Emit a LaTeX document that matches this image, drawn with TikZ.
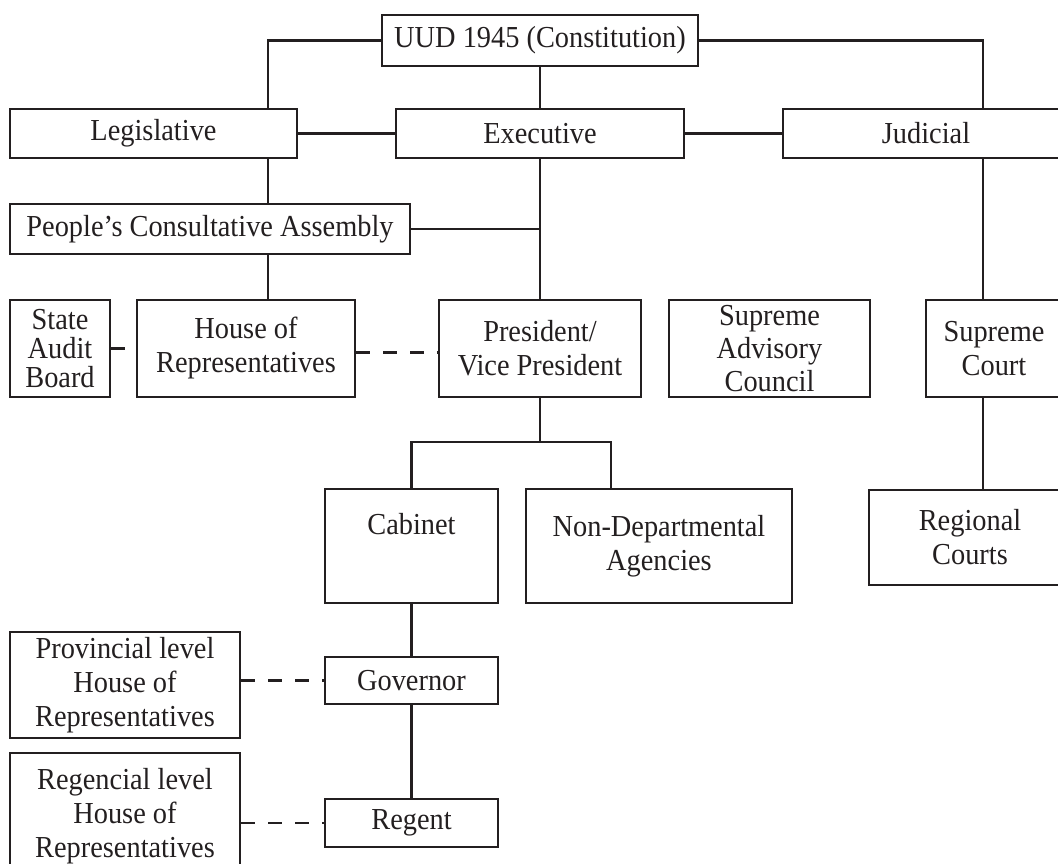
\documentclass[tikz,border=0pt]{standalone}
\usepackage{fontspec}
\setmainfont{Liberation Serif}[FakeStretch=0.93]
\definecolor{ink}{HTML}{231F20}
\begin{document}
\begin{tikzpicture}[x=1pt,y=-1pt,
  box/.style={draw=ink, text=ink, line width=2.8pt, inner sep=0pt, align=center,
    font=\fontsize{30.5}{34}\selectfont},
  conn/.style={draw=ink, line width=2.8pt},
  dsh/.style={draw=ink, line width=2.8pt, dash pattern=on 14pt off 13pt}]
\useasboundingbox (0,0) rectangle (1058,864);
\clip (0,0) rectangle (1058,864);
% row 1
\node[box, minimum width=316pt, minimum height=51pt] (uud) at (540,40.5) {UUD 1945 (Constitution)};
% row 2
\node[box, minimum width=287pt, minimum height=49pt] (leg) at (153.5,133.5) {Legislative};
\node[box, minimum width=288pt, minimum height=49pt] (exe) at (540,133.5) {Executive};
\node[box, minimum width=286pt, minimum height=49pt] (jud) at (926,133.5) {Judicial};
% row 2b
\node[box, minimum width=400pt, minimum height=50pt] (pca) at (210,229) {People’s Consultative Assembly};
% row 3
\node[box, minimum width=100pt, minimum height=97pt, font=\fontsize{30.5}{29}\selectfont] (sab) at (60,348.5) {State\\Audit\\Board};
\node[box, minimum width=218pt, minimum height=97pt] (house) at (246,348.5) {House of\\Representatives};
\node[box, minimum width=202pt, minimum height=97pt] (pres) at (540,348.5) {President/\\Vice President};
\node[box, minimum width=201pt, minimum height=97pt, font=\fontsize{30.5}{33}\selectfont] (sac) at (769.5,348.5) {Supreme\\Advisory\\Council};
\node[box, minimum width=136pt, minimum height=97pt] (sc) at (994,348.5) {Supreme\\Court};
% row 4
\node[box, minimum width=173pt, minimum height=114pt] (cab) at (411.5,546) {Cabinet\\\strut};
\node[box, minimum width=266pt, minimum height=114pt] (nda) at (659,546) {Non-Departmental\\Agencies};
\node[box, minimum width=202pt, minimum height=95pt] (rc) at (970,537.5) {Regional\\Courts};
% row 5
\node[box, minimum width=173pt, minimum height=47pt] (gov) at (411.5,680.5) {Governor};
\node[box, minimum width=230pt, minimum height=106pt] (prov) at (125,685) {Provincial level\\House of\\Representatives};
\node[box, minimum width=173pt, minimum height=48pt] (reg) at (411.5,823) {Regent};
\node[box, minimum width=230pt, minimum height=126pt] (regc) at (125,816) {Regencial level\\House of\\Representatives};
% helper coordinates
\coordinate (xL) at (268,0);
\coordinate (xJ) at (983,0);
\coordinate (xN) at (611,0);
\coordinate (brk) at (540,442);
\coordinate (stub) at (125,348.5);
% connectors
\draw[conn] (uud.west) -| (xL |- leg.north);
\draw[conn] (uud.east) -| (xJ |- jud.north);
\draw[conn] (uud.south) -- (exe.north);
\draw[conn] (leg.east) -- (exe.west);
\draw[conn] (exe.east) -- (jud.west);
\draw[conn] (xL |- leg.south) -- (xL |- pca.north);
\draw[conn] (pca.east) -- (pca.east -| exe.south);
\draw[conn] (exe.south) -- (pres.north);
\draw[conn] (xL |- pca.south) -- (xL |- house.north);
\draw[conn] (sab.east) -- (stub);
\draw[dsh] ([yshift=-4pt]house.east) -- ([yshift=-4pt]pres.west);
\draw[conn] (xJ |- jud.south) -- (xJ |- sc.north);
\draw[conn] (xJ |- sc.south) -- (xJ |- rc.north);
\draw[conn] (pres.south) -- (brk);
\draw[conn] (cab.north) |- (brk) -| (xN |- nda.north);
\draw[conn] (cab.south) -- (gov.north);
\draw[dsh] (gov.west -| prov.east) -- (gov.west);
\draw[conn] (gov.south) -- (reg.north);
\draw[dsh] (reg.west -| regc.east) -- (reg.west);
\end{tikzpicture}
\end{document}
